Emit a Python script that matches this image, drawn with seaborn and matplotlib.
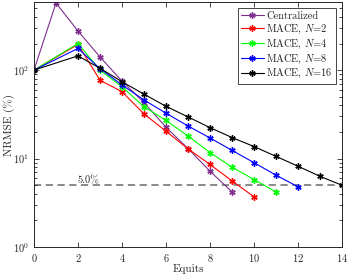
import numpy as np
import pandas as pd
import matplotlib
matplotlib.use("Agg")
import matplotlib.pyplot as plt
import seaborn as sns
from matplotlib.ticker import LogLocator, FixedLocator

# data
x_cent = [0, 1, 2, 3, 4, 5, 6, 7, 8, 9]
y_cent = [100, 574, 277, 141, 75, 43, 22.6, 13.0, 7.2, 4.2]
x_n2 = [0, 2, 3, 4, 5, 6, 7, 8, 9, 10]
y_n2 = [100, 195, 77, 57, 32, 20.4, 12.9, 8.6, 5.6, 3.7]
x_n4 = [0, 2, 3, 4, 5, 6, 7, 8, 9, 10, 11]
y_n4 = [100, 200, 100, 65, 38.5, 27, 18.0, 11.7, 8.0, 5.8, 4.2]
x_n8 = [0, 2, 3, 4, 5, 6, 7, 8, 9, 10, 11, 12]
y_n8 = [100, 176, 104, 68, 46, 32.6, 23.4, 17.1, 12.4, 9.0, 6.5, 4.8]
x_n16 = [0, 2, 3, 4, 5, 6, 7, 8, 9, 10, 11, 12, 13, 14]
y_n16 = [100, 145, 105, 74, 53.5, 39, 29.6, 22.4, 17.3, 13.7, 10.6, 8.2, 6.3, 5.0]
threshold = 5.0

series = [
    ("Centralized", x_cent, y_cent, "#7E2F8E"),
    ("MACE, $N$=2", x_n2, y_n2, "#FF0000"),
    ("MACE, $N$=4", x_n4, y_n4, "#00FF00"),
    ("MACE, $N$=8", x_n8, y_n8, "#0000FF"),
    ("MACE, $N$=16", x_n16, y_n16, "#000000"),
]

sns.set_style("ticks")
plt.rcParams["font.family"] = ["serif"]
plt.rcParams["font.serif"] = ["cmr10", "DejaVu Serif"]
plt.rcParams["mathtext.fontset"] = "cm"
plt.rcParams["axes.formatter.use_mathtext"] = True
plt.rcParams["axes.unicode_minus"] = False

fig = plt.figure(figsize=(3.49, 2.77), dpi=100)
ax = fig.add_axes([0.0974, 0.108, 0.8826, 0.885])

for name, xs, ys, col in series:
    df = pd.DataFrame({"x": xs, "y": ys})
    sns.lineplot(data=df, x="x", y="y", ax=ax, color=col, label=name,
                 marker=(6, 2, 0), markersize=4.5, markeredgewidth=1.0,
                 markeredgecolor=col, linewidth=0.8)

ax.axhline(threshold, color="#808080", linestyle=(0, (4, 2.5)), linewidth=1.3, zorder=0)
ax.text(2.0, threshold * 0.99, f"{threshold:.1f}%", fontsize=7.5, color="#262626",
        ha="left", va="bottom")

ax.set_yscale("log")
ax.set_xlim(0, 14)
ax.set_ylim(1, 590)
ax.xaxis.set_major_locator(FixedLocator(np.arange(0, 15, 2)))
ax.yaxis.set_major_locator(LogLocator(base=10, numticks=5))
ax.yaxis.set_minor_locator(LogLocator(base=10, subs=np.arange(2, 10), numticks=12))

ax.set_xlabel("Equits", fontsize=8, color="#262626", labelpad=0)
ax.set_ylabel("NRMSE (%)", fontsize=8, color="#262626")
ax.yaxis.set_label_coords(-0.062, 0.5)
ax.tick_params(which="both", direction="in", top=True, right=True,
               labelsize=7.5, colors="#262626", width=0.6)
ax.tick_params(which="major", length=3.5)
ax.tick_params(which="minor", length=2)
for s in ax.spines.values():
    s.set_linewidth(0.7)
    s.set_color("#262626")

leg = ax.legend(loc="upper right", fontsize=7.5, frameon=True, fancybox=False,
                edgecolor="#262626", framealpha=1, borderpad=0.3,
                labelspacing=0.15, handlelength=2.2, handletextpad=0.2,
                borderaxespad=0.6)
leg.get_frame().set_linewidth(0.6)

fig.savefig("out.png", dpi=100)
